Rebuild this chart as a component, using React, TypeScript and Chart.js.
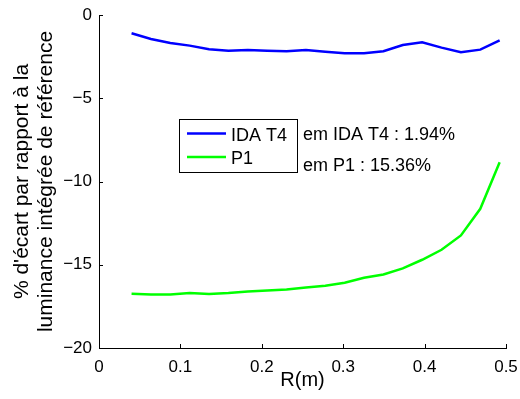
import React, { useEffect, useRef } from "react";
import { Chart, registerables } from "chart.js";

Chart.register(...registerables);

const radius = [0.04, 0.0638, 0.0876, 0.1114, 0.1352, 0.159, 0.1828, 0.2066, 0.2304, 0.2542, 0.278, 0.3018, 0.3256, 0.3494, 0.3732, 0.397, 0.4208, 0.4446, 0.4684, 0.4922];
const idaT4 = [-1.1, -1.44, -1.68, -1.84, -2.06, -2.14, -2.1, -2.14, -2.18, -2.1, -2.2, -2.3, -2.3, -2.18, -1.8, -1.64, -1.96, -2.24, -2.08, -1.52];
const p1 = [-16.74, -16.78, -16.78, -16.7, -16.76, -16.7, -16.6, -16.54, -16.48, -16.36, -16.26, -16.08, -15.78, -15.58, -15.22, -14.7, -14.1, -13.24, -11.64, -8.84];
const seriesNames = ["IDA T4", "P1"];
const annotations = ["em IDA T4 : 1.94%", "em P1 : 15.36%"];
const xTicks = [0, 0.1, 0.2, 0.3, 0.4, 0.5];
const yTicks = [0, -5, -10, -15, -20];
const yTitle = ["% d'écart par rapport à la", "luminance intégrée de référence"];
const xTitle = "R(m)";

const FONT = "'Liberation Sans', Arial, Helvetica, sans-serif";

const overlay = {
  id: "overlay",
  afterDraw(chart: any) {
    const ctx = chart.ctx;
    const xs = chart.scales.x;
    const ys = chart.scales.y;
    const a = chart.chartArea;
    ctx.save();
    // inward ticks
    ctx.strokeStyle = "#000";
    ctx.lineWidth = 1;
    ctx.beginPath();
    xTicks.forEach((v) => {
      const px = Math.round(xs.getPixelForValue(v)) + 0.5;
      ctx.moveTo(px, a.bottom);
      ctx.lineTo(px, a.bottom - 4);
    });
    yTicks.forEach((v) => {
      const py = Math.round(ys.getPixelForValue(v)) + 0.5;
      ctx.moveTo(a.left, py);
      ctx.lineTo(a.left + 4, py);
    });
    ctx.stroke();

    // legend box
    const lx = a.left + 80;
    const ly = a.top + 104;
    const lw = 118;
    const lh = 53;
    ctx.fillStyle = "#fff";
    ctx.fillRect(lx, ly, lw, lh);
    ctx.strokeStyle = "#000";
    ctx.strokeRect(lx + 0.5, ly + 0.5, lw, lh);
    const colors = ["#0000ff", "#00ff00"];
    ctx.font = "18px " + FONT;
    ctx.textBaseline = "alphabetic";
    ctx.textAlign = "left";
    seriesNames.forEach((n, i) => {
      const yy = ly + 14.5 + i * 23.5;
      ctx.strokeStyle = colors[i];
      ctx.lineWidth = 2.5;
      ctx.beginPath();
      ctx.moveTo(lx + 8, yy);
      ctx.lineTo(lx + 47, yy);
      ctx.stroke();
      ctx.fillStyle = "#000";
      ctx.fillText(n, lx + 52, ly + 21.5 + i * 23.5);
    });
    // annotations
    ctx.fillText(annotations[0], lx + 124, ly + 21);
    ctx.fillText(annotations[1], lx + 124, ly + 52);
    ctx.restore();
  },
};

export default function App() {
  const ref = useRef<HTMLCanvasElement>(null);
  useEffect(() => {
    if (!ref.current) return;
    const chart = new Chart(ref.current, {
      type: "line",
      data: {
        labels: radius,
        datasets: [
          {
            label: seriesNames[0],
            data: radius.map((r, i) => ({ x: r, y: idaT4[i] })),
            borderColor: "#0000ff",
            borderWidth: 2.5,
            pointRadius: 0,
            tension: 0,
            fill: false,
          },
          {
            label: seriesNames[1],
            data: radius.map((r, i) => ({ x: r, y: p1[i] })),
            borderColor: "#00ff00",
            borderWidth: 2.5,
            pointRadius: 0,
            tension: 0,
            fill: false,
          },
        ],
      },
      options: {
        animation: false,
        responsive: false,
        layout: { padding: { top: 15, right: 14, left: 0, bottom: 0 } },
        plugins: { legend: { display: false }, tooltip: { enabled: false } },
        scales: {
          x: {
            type: "linear",
            min: 0,
            max: 0.5,
            afterBuildTicks: (s: any) => {
              s.ticks = xTicks.map((v) => ({ value: v }));
            },
            grid: { display: false, drawTicks: false },
            border: { display: true, color: "#000", width: 1 },
            ticks: {
              color: "#000",
              padding: 9,
              maxRotation: 0,
              font: { family: FONT, size: 17 },
              callback: (v: any) => String(Math.round(Number(v) * 10) / 10),
            },
            title: {
              display: true,
              text: xTitle,
              color: "#000",
              font: { family: FONT, size: 20, lineHeight: 1.2 },
              padding: { top: 0, bottom: 7 },
            },
            afterFit: (s: any) => {
              s.height = 51;
              s.paddingLeft = 0;
              s.paddingRight = 0;
            },
          },
          y: {
            type: "linear",
            min: -20,
            max: 0,
            afterBuildTicks: (s: any) => {
              s.ticks = yTicks.map((v) => ({ value: v }));
            },
            grid: { display: false, drawTicks: false },
            border: { display: true, color: "#000", width: 1 },
            ticks: {
              color: "#000",
              padding: 7,
              font: { family: FONT, size: 17 },
              callback: (v: any) => (Number(v) < 0 ? "\u2212" + Math.abs(Number(v)) : "0"),
            },
            title: {
              display: true,
              text: yTitle,
              color: "#000",
              font: { family: FONT, size: 21, lineHeight: 24 / 21 },
              padding: { top: 10, bottom: 0 },
            },
            afterFit: (s: any) => {
              s.width = 99;
              s.paddingTop = 0;
              s.paddingBottom = 0;
            },
          },
        },
      },
      plugins: [overlay],
    } as any);
    return () => chart.destroy();
  }, []);
  return (
    <div style={{ position: "absolute", left: 0, top: 0, width: 520, height: 399, background: "#fff" }}>
      <canvas ref={ref} width={520} height={399} style={{ width: 520, height: 399 }} />
    </div>
  );
}
